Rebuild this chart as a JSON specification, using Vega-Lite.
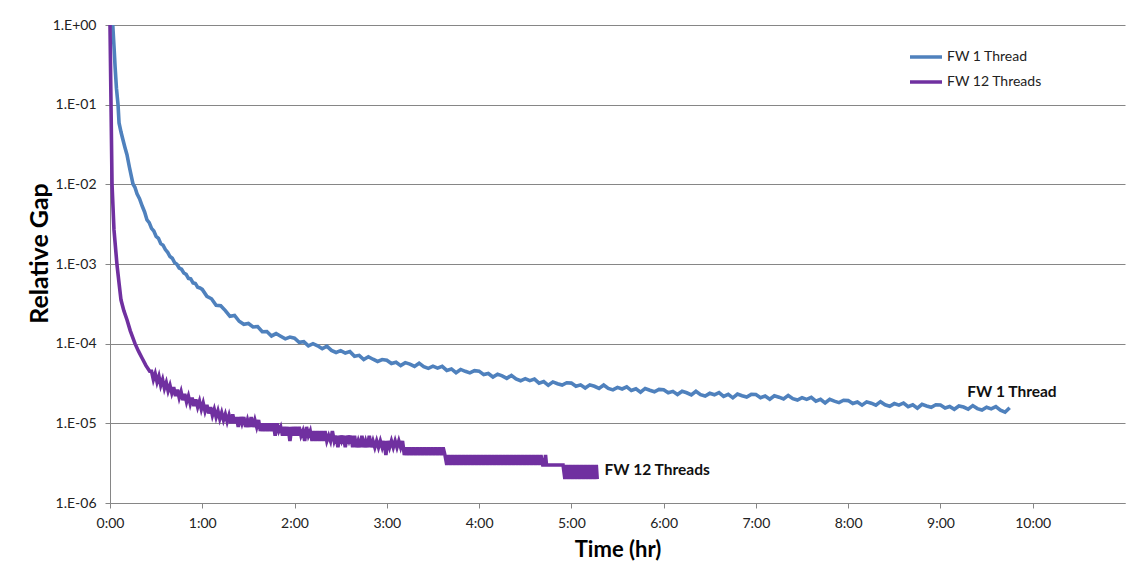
{
  "$schema": "https://vega.github.io/schema/vega-lite/v6.json",
  "autosize": "none",
  "padding": {"left": 110, "top": 25, "right": 23, "bottom": 79},
  "width": 1015,
  "height": 478,
  "background": "white",
  "config": {"font": "Lato", "view": {"stroke": null}},
  "datasets": {
    "blue": [
      {"t":0.03,"g":1},{"t":0.045,"g":0.5},{"t":0.055,"g":0.3},{"t":0.07,"g":0.16},{"t":0.087,"g":0.1},
      {"t":0.098,"g":0.059},{"t":0.12,"g":0.045},{"t":0.141,"g":0.036},{"t":0.162,"g":0.029},{"t":0.184,"g":0.0235},
      {"t":0.21,"g":0.0165},{"t":0.249,"g":0.0101},{"t":0.27,"g":0.0092},{"t":0.293,"g":0.0076},{"t":0.32,"g":0.0066},{"t":0.35,"g":0.0053},
      {"t":0.375,"g":0.0045},{"t":0.401,"g":0.00357},{"t":0.425,"g":0.0033},{"t":0.45,"g":0.0028},{"t":0.475,"g":0.0026},{"t":0.5,"g":0.00222},
      {"t":0.525,"g":0.0021},{"t":0.55,"g":0.0018},{"t":0.575,"g":0.00172},{"t":0.6,"g":0.00152},{"t":0.625,"g":0.0014},
      {"t":0.65,"g":0.00124},{"t":0.675,"g":0.00118},{"t":0.7,"g":0.00104},{"t":0.725,"g":0.00099},{"t":0.75,"g":0.00089},
      {"t":0.775,"g":0.00086},{"t":0.8,"g":0.00077},{"t":0.825,"g":0.00074},{"t":0.85,"g":0.00066},{"t":0.875,"g":0.00065},
      {"t":0.9,"g":0.00058},{"t":0.925,"g":0.00057},{"t":0.95,"g":0.00051},{"t":0.975,"g":0.0005},
      {"t":1.00,"g":48.0e-5},{"t":1.05,"g":39.3e-5},{"t":1.10,"g":36.6e-5},{"t":1.15,"g":30.3e-5},{"t":1.20,"g":30.0e-5},
      {"t":1.25,"g":26.0e-5},{"t":1.30,"g":22.0e-5},{"t":1.35,"g":22.6e-5},{"t":1.40,"g":19.1e-5},{"t":1.45,"g":17.5e-5},
      {"t":1.50,"g":17.9e-5},{"t":1.55,"g":16.2e-5},{"t":1.60,"g":16.4e-5},{"t":1.65,"g":14.1e-5},{"t":1.70,"g":14.2e-5},
      {"t":1.75,"g":12.5e-5},{"t":1.80,"g":13.4e-5},{"t":1.85,"g":12.4e-5},{"t":1.90,"g":11.5e-5},{"t":1.95,"g":12.1e-5},
      {"t":2.00,"g":11.7e-5},{"t":2.05,"g":10.4e-5},{"t":2.10,"g":10.6e-5},{"t":2.15,"g":9.4e-5},{"t":2.20,"g":10.0e-5},
      {"t":2.25,"g":9.42e-5},{"t":2.30,"g":8.64e-5},{"t":2.35,"g":9.31e-5},{"t":2.40,"g":8.23e-5},{"t":2.45,"g":7.76e-5},
      {"t":2.50,"g":8.18e-5},{"t":2.55,"g":7.64e-5},{"t":2.60,"g":7.95e-5},{"t":2.65,"g":6.96e-5},{"t":2.70,"g":7.14e-5},
      {"t":2.75,"g":6.32e-5},{"t":2.80,"g":6.86e-5},{"t":2.85,"g":6.38e-5},{"t":2.90,"g":5.98e-5},{"t":2.95,"g":6.33e-5},
      {"t":3.00,"g":6.2e-5},{"t":3.05,"g":5.64e-5},{"t":3.10,"g":5.84e-5},{"t":3.15,"g":5.3e-5},{"t":3.20,"g":5.78e-5},
      {"t":3.25,"g":5.53e-5},{"t":3.30,"g":5.18e-5},{"t":3.35,"g":5.69e-5},{"t":3.40,"g":5.15e-5},{"t":3.45,"g":4.9e-5},
      {"t":3.50,"g":5.22e-5},{"t":3.55,"g":4.93e-5},{"t":3.60,"g":5.19e-5},{"t":3.65,"g":4.62e-5},{"t":3.70,"g":4.82e-5},
      {"t":3.75,"g":4.32e-5},{"t":3.80,"g":4.75e-5},{"t":3.85,"g":4.5e-5},{"t":3.90,"g":4.3e-5},{"t":3.95,"g":4.58e-5},
      {"t":4.00,"g":4.52e-5},{"t":4.05,"g":4.09e-5},{"t":4.10,"g":4.22e-5},{"t":4.15,"g":3.82e-5},{"t":4.20,"g":4.14e-5},
      {"t":4.25,"g":3.94e-5},{"t":4.30,"g":3.67e-5},{"t":4.35,"g":4.0e-5},{"t":4.40,"g":3.6e-5},{"t":4.45,"g":3.42e-5},
      {"t":4.50,"g":3.64e-5},{"t":4.55,"g":3.43e-5},{"t":4.60,"g":3.59e-5},{"t":4.65,"g":3.2e-5},{"t":4.70,"g":3.35e-5},
      {"t":4.75,"g":3.0e-5},{"t":4.80,"g":3.31e-5},{"t":4.85,"g":3.14e-5},{"t":4.90,"g":3.02e-5},{"t":4.95,"g":3.23e-5},
      {"t":5.00,"g":3.2e-5},{"t":5.05,"g":2.92e-5},{"t":5.10,"g":3.04e-5},{"t":5.15,"g":2.77e-5},{"t":5.20,"g":3.04e-5},
      {"t":5.25,"g":2.92e-5},{"t":5.30,"g":2.75e-5},{"t":5.35,"g":3.03e-5},{"t":5.40,"g":2.74e-5},{"t":5.45,"g":2.63e-5},
      {"t":5.50,"g":2.83e-5},{"t":5.55,"g":2.7e-5},{"t":5.60,"g":2.87e-5},{"t":5.65,"g":2.58e-5},{"t":5.70,"g":2.72e-5},
      {"t":5.75,"g":2.46e-5},{"t":5.80,"g":2.74e-5},{"t":5.85,"g":2.6e-5},{"t":5.90,"g":2.49e-5},{"t":5.95,"g":2.67e-5},
      {"t":6.00,"g":2.64e-5},{"t":6.05,"g":2.42e-5},{"t":6.10,"g":2.52e-5},{"t":6.15,"g":2.3e-5},{"t":6.20,"g":2.53e-5},
      {"t":6.25,"g":2.42e-5},{"t":6.30,"g":2.28e-5},{"t":6.35,"g":2.53e-5},{"t":6.40,"g":2.29e-5},{"t":6.45,"g":2.2e-5},
      {"t":6.50,"g":2.38e-5},{"t":6.55,"g":2.28e-5},{"t":6.60,"g":2.43e-5},{"t":6.65,"g":2.18e-5},{"t":6.70,"g":2.31e-5},
      {"t":6.75,"g":2.09e-5},{"t":6.80,"g":2.33e-5},{"t":6.85,"g":2.22e-5},{"t":6.90,"g":2.14e-5},{"t":6.95,"g":2.31e-5},
      {"t":7.00,"g":2.3e-5},{"t":7.05,"g":2.1e-5},{"t":7.10,"g":2.2e-5},{"t":7.15,"g":2.01e-5},{"t":7.20,"g":2.22e-5},
      {"t":7.25,"g":2.13e-5},{"t":7.30,"g":2.02e-5},{"t":7.35,"g":2.24e-5},{"t":7.40,"g":2.04e-5},{"t":7.45,"g":1.96e-5},
      {"t":7.50,"g":2.1e-5},{"t":7.55,"g":2.0e-5},{"t":7.60,"g":2.12e-5},{"t":7.65,"g":1.9e-5},{"t":7.70,"g":2.0e-5},
      {"t":7.75,"g":1.8e-5},{"t":7.80,"g":2.0e-5},{"t":7.85,"g":1.9e-5},{"t":7.90,"g":1.82e-5},{"t":7.95,"g":1.95e-5},
      {"t":8.00,"g":1.93e-5},{"t":8.05,"g":1.77e-5},{"t":8.10,"g":1.85e-5},{"t":8.15,"g":1.69e-5},{"t":8.20,"g":1.86e-5},
      {"t":8.25,"g":1.79e-5},{"t":8.30,"g":1.69e-5},{"t":8.35,"g":1.87e-5},{"t":8.40,"g":1.71e-5},{"t":8.45,"g":1.64e-5},
      {"t":8.50,"g":1.77e-5},{"t":8.55,"g":1.69e-5},{"t":8.60,"g":1.8e-5},{"t":8.65,"g":1.62e-5},{"t":8.70,"g":1.71e-5},
      {"t":8.75,"g":1.55e-5},{"t":8.80,"g":1.73e-5},{"t":8.85,"g":1.65e-5},{"t":8.90,"g":1.59e-5},{"t":8.95,"g":1.71e-5},
      {"t":9.00,"g":1.7e-5},{"t":9.05,"g":1.56e-5},{"t":9.10,"g":1.63e-5},{"t":9.15,"g":1.5e-5},{"t":9.20,"g":1.65e-5},
      {"t":9.25,"g":1.6e-5},{"t":9.30,"g":1.51e-5},{"t":9.35,"g":1.67e-5},{"t":9.40,"g":1.53e-5},{"t":9.45,"g":1.47e-5},
      {"t":9.50,"g":1.59e-5},{"t":9.55,"g":1.52e-5},{"t":9.60,"g":1.62e-5},{"t":9.65,"g":1.46e-5},{"t":9.70,"g":1.38e-5},
      {"t":9.75,"g":1.57e-5}
    ],
    "purple": [
      {"t":0,"g":1},{"t":0.011,"g":0.1},{"t":0.022,"g":0.01},{"t":0.043,"g":0.0027},{"t":0.076,"g":0.00097},
      {"t":0.1,"g":0.00055},{"t":0.119,"g":0.000355},{"t":0.15,"g":0.00026},{"t":0.184,"g":0.0002},{"t":0.22,"g":0.000145},
      {"t":0.271,"g":0.0001},{"t":0.31,"g":8.0e-5},{"t":0.347,"g":6.6e-5},{"t":0.39,"g":5.3e-5},{"t":0.43,"g":4.5e-5},
      {"t":0.45,"g":45e-6},{"t":0.47,"g":35.5e-6},{"t":0.49,"g":42e-6},{"t":0.51,"g":33e-6},{"t":0.53,"g":39e-6},
      {"t":0.55,"g":30e-6},{"t":0.57,"g":35.5e-6},{"t":0.59,"g":27.5e-6},{"t":0.61,"g":32.5e-6},{"t":0.63,"g":25.5e-6},
      {"t":0.65,"g":30e-6},{"t":0.67,"g":24e-6},{"t":0.69,"g":28.5e-6},{"t":0.71,"g":22e-6},{"t":0.73,"g":26.5e-6},
      {"t":0.75,"g":21e-6},{"t":0.77,"g":25e-6},{"t":0.79,"g":19.5e-6},{"t":0.81,"g":23.5e-6},{"t":0.83,"g":18.5e-6},
      {"t":0.85,"g":22e-6},{"t":0.87,"g":17.5e-6},{"t":0.89,"g":21e-6},{"t":0.91,"g":16.5e-6},{"t":0.93,"g":20e-6},
      {"t":0.95,"g":16e-6},{"t":0.97,"g":19e-6},{"t":0.99,"g":15e-6},{"t":1.01,"g":18e-6},{"t":1.03,"g":14.2e-6},
      {"t":1.05,"g":17e-6},{"t":1.07,"g":13.3e-6},{"t":1.09,"g":16e-6},{"t":1.11,"g":12.6e-6},{"t":1.13,"g":15e-6},
      {"t":1.15,"g":12e-6},{"t":1.17,"g":14.3e-6},{"t":1.19,"g":11.4e-6},{"t":1.21,"g":13.6e-6},{"t":1.23,"g":11e-6},
      {"t":1.25,"g":13e-6},{"t":1.27,"g":10.5e-6},{"t":1.29,"g":12.6e-6},{"t":1.31,"g":10e-6},
      {"t":1.33,"g":13e-6},{"t":1.35,"g":10e-6},{"t":1.37,"g":12e-6},{"t":1.39,"g":9e-6},{"t":1.41,"g":12e-6},
      {"t":1.43,"g":10e-6},{"t":1.45,"g":12e-6},{"t":1.47,"g":9e-6},{"t":1.49,"g":11e-6},{"t":1.51,"g":9e-6},
      {"t":1.53,"g":12e-6},{"t":1.55,"g":9e-6},{"t":1.57,"g":11e-6},{"t":1.59,"g":9e-6},{"t":1.61,"g":11e-6},
      {"t":1.63,"g":8e-6},{"t":1.65,"g":10e-6},{"t":1.67,"g":8e-6},{"t":1.69,"g":10e-6},{"t":1.71,"g":8e-6},
      {"t":1.73,"g":10e-6},{"t":1.75,"g":8e-6},{"t":1.77,"g":10e-6},{"t":1.79,"g":7e-6},{"t":1.81,"g":10e-6},
      {"t":1.83,"g":8e-6},{"t":1.85,"g":9e-6},{"t":1.87,"g":7e-6},{"t":1.89,"g":9e-6},{"t":1.91,"g":7e-6},
      {"t":1.93,"g":9e-6},{"t":1.95,"g":6e-6},{"t":1.97,"g":9e-6},{"t":1.99,"g":7e-6},{"t":2.01,"g":9e-6},
      {"t":2.03,"g":7e-6},{"t":2.05,"g":9e-6},{"t":2.07,"g":7e-6},{"t":2.09,"g":8e-6},{"t":2.11,"g":6e-6},
      {"t":2.13,"g":9e-6},{"t":2.15,"g":7e-6},{"t":2.17,"g":8e-6},{"t":2.19,"g":6e-6},{"t":2.21,"g":8e-6},
      {"t":2.23,"g":6e-6},{"t":2.25,"g":8e-6},{"t":2.27,"g":6e-6},{"t":2.29,"g":8e-6},{"t":2.31,"g":6e-6},
      {"t":2.33,"g":8e-6},{"t":2.35,"g":6e-6},{"t":2.37,"g":7e-6},{"t":2.39,"g":6e-6},{"t":2.41,"g":8e-6},
      {"t":2.43,"g":6e-6},{"t":2.45,"g":7e-6},{"t":2.47,"g":5e-6},{"t":2.49,"g":7e-6},{"t":2.51,"g":6e-6},
      {"t":2.53,"g":7e-6},{"t":2.55,"g":5e-6},{"t":2.57,"g":7e-6},{"t":2.59,"g":6e-6},{"t":2.61,"g":7e-6},
      {"t":2.63,"g":5e-6},{"t":2.65,"g":7e-6},{"t":2.67,"g":5e-6},{"t":2.69,"g":6e-6},{"t":2.71,"g":5e-6},
      {"t":2.73,"g":7e-6},{"t":2.75,"g":5e-6},{"t":2.77,"g":6e-6},{"t":2.79,"g":5e-6},{"t":2.81,"g":7e-6},
      {"t":2.83,"g":5e-6},{"t":2.85,"g":6e-6},{"t":2.87,"g":5e-6},{"t":2.89,"g":6e-6},{"t":2.91,"g":5e-6},
      {"t":2.93,"g":6e-6},{"t":2.95,"g":5e-6},{"t":2.97,"g":6e-6},{"t":2.99,"g":4e-6},{"t":3.01,"g":6e-6},
      {"t":3.03,"g":5e-6},{"t":3.05,"g":6e-6},{"t":3.07,"g":5e-6},{"t":3.09,"g":6e-6},{"t":3.11,"g":5e-6},
      {"t":3.13,"g":6e-6},{"t":3.15,"g":5e-6},{"t":3.17,"g":6e-6},{"t":3.19,"g":4e-6},{"t":3.21,"g":5e-6},
      {"t":3.23,"g":4e-6},{"t":3.25,"g":5e-6},{"t":3.27,"g":4e-6},{"t":3.29,"g":5e-6},{"t":3.31,"g":4e-6},
      {"t":3.33,"g":5e-6},{"t":3.35,"g":4e-6},{"t":3.37,"g":5e-6},{"t":3.39,"g":4e-6},{"t":3.41,"g":5e-6},
      {"t":3.43,"g":4e-6},{"t":3.45,"g":5e-6},{"t":3.47,"g":4e-6},{"t":3.49,"g":5e-6},{"t":3.51,"g":4e-6},
      {"t":3.53,"g":5e-6},{"t":3.55,"g":4e-6},{"t":3.57,"g":5e-6},{"t":3.59,"g":4e-6},{"t":3.61,"g":5e-6},
      {"t":3.63,"g":4e-6},{"t":3.65,"g":3e-6},{"t":3.67,"g":4e-6},{"t":3.69,"g":3e-6},{"t":3.71,"g":4e-6},
      {"t":3.73,"g":3e-6},{"t":3.75,"g":4e-6},{"t":3.77,"g":3e-6},{"t":3.79,"g":4e-6},{"t":3.81,"g":3e-6},
      {"t":3.83,"g":4e-6},{"t":3.85,"g":3e-6},{"t":3.87,"g":4e-6},{"t":3.89,"g":3e-6},{"t":3.91,"g":4e-6},
      {"t":3.93,"g":3e-6},{"t":3.95,"g":4e-6},{"t":3.97,"g":3e-6},{"t":3.99,"g":4e-6},{"t":4.01,"g":3e-6},
      {"t":4.03,"g":4e-6},{"t":4.05,"g":3e-6},{"t":4.07,"g":4e-6},{"t":4.09,"g":3e-6},{"t":4.11,"g":4e-6},
      {"t":4.13,"g":3e-6},{"t":4.15,"g":4e-6},{"t":4.17,"g":3e-6},{"t":4.19,"g":4e-6},{"t":4.21,"g":3e-6},
      {"t":4.23,"g":4e-6},{"t":4.25,"g":3e-6},{"t":4.27,"g":4e-6},{"t":4.29,"g":3e-6},{"t":4.31,"g":4e-6},
      {"t":4.33,"g":3e-6},{"t":4.35,"g":4e-6},{"t":4.37,"g":3e-6},{"t":4.39,"g":4e-6},{"t":4.41,"g":3e-6},
      {"t":4.43,"g":4e-6},{"t":4.45,"g":3e-6},{"t":4.47,"g":4e-6},{"t":4.49,"g":3e-6},{"t":4.51,"g":4e-6},
      {"t":4.53,"g":3e-6},{"t":4.55,"g":4e-6},{"t":4.57,"g":3e-6},{"t":4.59,"g":4e-6},{"t":4.61,"g":3e-6},
      {"t":4.63,"g":4e-6},{"t":4.65,"g":3e-6},{"t":4.67,"g":4e-6},{"t":4.69,"g":3e-6},{"t":4.71,"g":3e-6},
      {"t":4.72,"g":4e-6},{"t":4.73,"g":3e-6},{"t":4.91,"g":3e-6},{"t":4.93,"g":2e-6},{"t":4.95,"g":3e-6},
      {"t":4.97,"g":2e-6},{"t":4.99,"g":3e-6},{"t":5.01,"g":2e-6},{"t":5.03,"g":3e-6},{"t":5.05,"g":2e-6},
      {"t":5.07,"g":3e-6},{"t":5.09,"g":2e-6},{"t":5.11,"g":3e-6},{"t":5.13,"g":2e-6},{"t":5.15,"g":3e-6},
      {"t":5.17,"g":2e-6},{"t":5.19,"g":3e-6},{"t":5.21,"g":2e-6},{"t":5.23,"g":3e-6},{"t":5.25,"g":2e-6},
      {"t":5.27,"g":3e-6},{"t":5.28,"g":2e-6}
    ],
    "labels": [
      {"t":9.29,"g":2.48e-5,"label":"FW 1 Thread"},
      {"t":5.36,"g":2.61e-6,"label":"FW 12 Threads"}
    ]
  },
  "encoding": {
    "x": {
      "field": "t", "type": "quantitative",
      "scale": {"domain": [0, 11], "nice": false, "zero": false},
      "axis": {
        "title": "Time (hr)", "values": [0,1,2,3,4,5,6,7,8,9,10],
        "labelExpr": "datum.value + ':00'", "grid": false,
        "domainColor": "#868686", "tickColor": "#868686", "tickSize": 5,
        "labelFontSize": 14, "labelColor": "#222", "labelPadding": 8, "labelFlush": false,
        "titleFontSize": 22, "titleFontWeight": "bold", "titleColor": "#000", "titlePadding": 9
      }
    },
    "y": {
      "field": "g", "type": "quantitative",
      "scale": {"type": "log", "domain": [1e-6, 1], "nice": false},
      "axis": {
        "title": "Relative Gap", "values": [1e-6, 1e-5, 1e-4, 1e-3, 1e-2, 1e-1, 1],
        "labelExpr": "datum.value >= 1 ? '1.E+00' : '1.E-0' + round(-log(datum.value) / LN10)",
        "grid": true, "gridColor": "#868686", "gridWidth": 1,
        "domainColor": "#868686", "tickColor": "#868686", "tickSize": 5,
        "labelFontSize": 14, "labelColor": "#222", "labelPadding": 9,
        "titleFontSize": 25, "titleFontWeight": "bold", "titleColor": "#000", "titlePadding": 0, "titleY": 228
      }
    }
  },
  "layer": [
    {
      "data": {"name": "blue"},
      "mark": {"type": "line", "strokeWidth": 3.6},
      "encoding": {
        "color": {
          "datum": "FW 1 Thread", "type": "nominal",
          "scale": {"domain": ["FW 1 Thread", "FW 12 Threads"], "range": ["#4F81BD", "#7030A0"]},
          "legend": {
            "title": null, "orient": "none", "legendX": 798, "legendY": 14,
            "symbolType": "stroke", "symbolStrokeWidth": 3.5, "symbolSize": 1024,
            "labelFontSize": 14, "labelColor": "#222", "labelOffset": 3, "rowPadding": -2
          }
        }
      }
    },
    {
      "data": {"name": "purple"},
      "mark": {"type": "line", "strokeWidth": 3.6},
      "encoding": {
        "color": {"datum": "FW 12 Threads", "type": "nominal"}
      }
    },
    {
      "data": {"name": "labels"},
      "mark": {"type": "text", "align": "left", "baseline": "middle", "fontWeight": "bold", "fontSize": 15.5, "color": "#111"},
      "encoding": {
        "text": {"field": "label"}
      }
    }
  ]
}
